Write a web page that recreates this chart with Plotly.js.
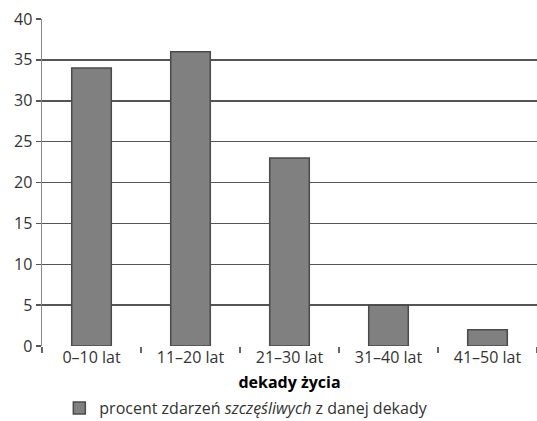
<!DOCTYPE html>
<html>
<head>
<meta charset="utf-8">
<script src="https://cdn.plot.ly/plotly-3.0.1.min.js"></script>
<style>html,body{margin:0;padding:0;background:#fff}#chart{width:537px;height:421px}</style>
</head>
<body>
<div id="chart"></div>
<script>
const categories = ["0–10 lat", "11–20 lat", "21–30 lat", "31–40 lat", "41–50 lat"];
const happyPercent = [34, 36, 23, 5, 2];
const seriesName = "procent zdarzeń <i>szczęśliwych</i> z danej dekady";
const xTitle = "dekady życia";

const font = "Open Sans, Noto Sans, sans-serif";

Plotly.newPlot("chart", [{
  type: "bar",
  x: categories,
  y: happyPercent,
  name: seriesName,
  showlegend: true,
  marker: {color: "#808080", line: {color: "#4a4a4a", width: 1.5}}
}], {
  width: 537, height: 421,
  margin: {l: 42, r: 0, t: 19, b: 75, autoexpand: false},
  paper_bgcolor: "#fff", plot_bgcolor: "#fff",
  font: {family: font, size: 16, color: "#222"},
  bargap: 0.6,
  xaxis: {
    type: "category",
    tickson: "boundaries",
    ticks: "outside", ticklen: 6, tickcolor: "#666", tickwidth: 1.5,
    showgrid: false, zeroline: false, showline: false,
    tickfont: {size: 16, color: "#333"},
    automargin: false,
    title: {text: "<b>" + xTitle + "</b>", font: {size: 16, color: "#000"}, standoff: 9}
  },
  yaxis: {
    range: [0, 40], dtick: 5,
    ticks: "outside", ticklen: 5, tickcolor: "#555", tickwidth: 1.5,
    showgrid: true, gridcolor: "#555", gridwidth: 1.5,
    zeroline: false, automargin: false,
    showline: true, linecolor: "#888", linewidth: 1.5,
    tickfont: {size: 16, color: "#333"}
  },
  legend: {
    orientation: "h", x: 0.035, xanchor: "left", y: -0.19, yanchor: "middle",
    font: {size: 16, color: "#333"}, itemwidth: 30
  },
  showlegend: true
}, {staticPlot: true});
</script>
</body>
</html>
